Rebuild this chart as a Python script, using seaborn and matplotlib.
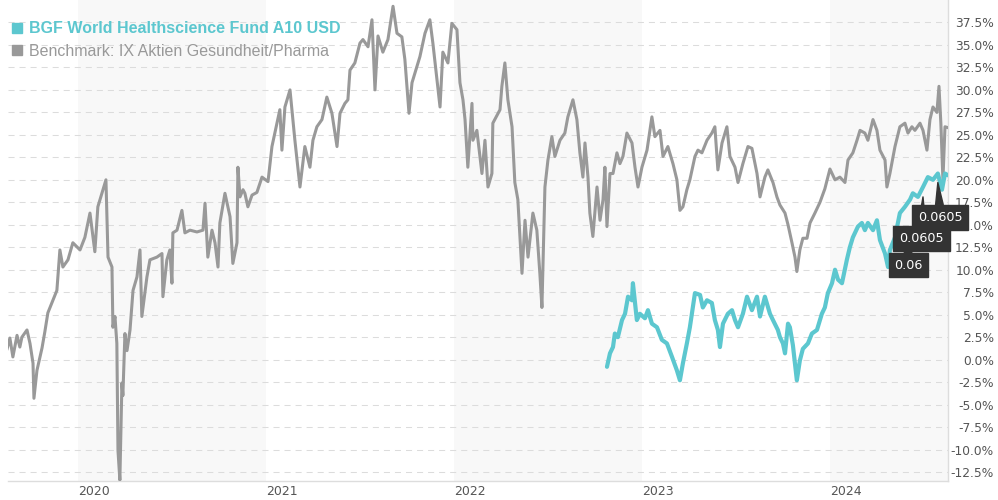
import numpy as np
import pandas as pd
import matplotlib
matplotlib.use("Agg")
import matplotlib.pyplot as plt
from matplotlib.lines import Line2D
from matplotlib.ticker import FixedLocator, FuncFormatter
import seaborn as sns

# ---------------- data (decimal years, performance in %) ----------------
bench_t = [2019.622, 2019.638, 2019.654, 2019.676, 2019.691, 2019.702, 2019.729, 2019.745,
           2019.761, 2019.766, 2019.782, 2019.809, 2019.824, 2019.840, 2019.867, 2019.888,
           2019.904, 2019.920, 2019.947, 2019.973, 2020.011, 2020.037, 2020.064, 2020.090,
           2020.106, 2020.133, 2020.149, 2020.160, 2020.181, 2020.186, 2020.197, 2020.207,
           2020.213, 2020.223, 2020.234, 2020.239, 2020.250, 2020.261, 2020.277, 2020.293,
           2020.314, 2020.330, 2020.340, 2020.367, 2020.383, 2020.420, 2020.447, 2020.452,
           2020.473, 2020.489, 2020.500, 2020.505, 2020.527, 2020.553, 2020.569, 2020.596,
           2020.633, 2020.665, 2020.676, 2020.691, 2020.713, 2020.729, 2020.745, 2020.755,
           2020.782, 2020.809, 2020.824, 2020.846, 2020.851, 2020.862, 2020.878, 2020.888,
           2020.904, 2020.926, 2020.952, 2020.979, 2021.011, 2021.032, 2021.059, 2021.074,
           2021.085, 2021.101, 2021.128, 2021.154, 2021.181, 2021.207, 2021.234, 2021.250,
           2021.271, 2021.298, 2021.324, 2021.351, 2021.378, 2021.394, 2021.420, 2021.436,
           2021.447, 2021.473, 2021.500, 2021.516, 2021.543, 2021.564, 2021.580, 2021.596,
           2021.622, 2021.649, 2021.676, 2021.697, 2021.723, 2021.739, 2021.761, 2021.777,
           2021.803, 2021.819, 2021.846, 2021.872, 2021.888, 2021.926, 2021.941, 2021.968,
           2021.989, 2022.016, 2022.032, 2022.048, 2022.059, 2022.074, 2022.096, 2022.101,
           2022.122, 2022.149, 2022.165, 2022.181, 2022.202, 2022.207, 2022.245, 2022.255,
           2022.271, 2022.287, 2022.309, 2022.324, 2022.340, 2022.362, 2022.378, 2022.394,
           2022.420, 2022.441, 2022.457, 2022.468, 2022.484, 2022.500, 2022.521, 2022.537,
           2022.564, 2022.590, 2022.606, 2022.633, 2022.654, 2022.670, 2022.686, 2022.697,
           2022.713, 2022.723, 2022.739, 2022.761, 2022.777, 2022.793, 2022.803, 2022.814,
           2022.830, 2022.846, 2022.867, 2022.883, 2022.899, 2022.920, 2022.947, 2022.963,
           2022.979, 2023.000, 2023.027, 2023.053, 2023.069, 2023.096, 2023.112, 2023.138,
           2023.165, 2023.186, 2023.202, 2023.218, 2023.239, 2023.255, 2023.282, 2023.298,
           2023.319, 2023.346, 2023.372, 2023.388, 2023.404, 2023.426, 2023.452, 2023.468,
           2023.495, 2023.511, 2023.537, 2023.564, 2023.585, 2023.612, 2023.628, 2023.654,
           2023.670, 2023.697, 2023.718, 2023.734, 2023.761, 2023.777, 2023.798, 2023.814,
           2023.824, 2023.840, 2023.856, 2023.878, 2023.894, 2023.920, 2023.947, 2023.973,
           2024.000, 2024.027, 2024.053, 2024.080, 2024.096, 2024.122, 2024.144, 2024.160,
           2024.186, 2024.202, 2024.229, 2024.250, 2024.266, 2024.293, 2024.303, 2024.319,
           2024.346, 2024.372, 2024.399, 2024.415, 2024.436, 2024.452, 2024.479, 2024.495,
           2024.516, 2024.532, 2024.548, 2024.569, 2024.580, 2024.590, 2024.601, 2024.612,
           2024.628]
bench_v = [1.1, 2.4, 0.3, 2.7, 1.4, 2.5, 3.3, 1.8,
           -0.4, -4.3, -1.2, 1.3, 3.1, 5.2, 6.6, 7.7,
           12.2, 10.3, 11.1, 13.0, 12.2, 13.6, 16.3, 12.0,
           17.0, 18.9, 20.0, 11.4, 10.3, 3.6, 4.8, 1.8,
           -10.1, -13.4, -2.6, -4.0, 2.9, 1.0, 3.3, 7.7,
           9.2, 12.2, 4.8, 9.2, 11.1, 11.4, 11.8, 7.0,
           11.1, 12.2, 8.5, 14.1, 14.4, 16.6, 14.1, 14.4,
           14.2, 14.4, 17.4, 11.4, 14.4, 13.0, 10.3, 15.2,
           18.5, 15.9, 10.7, 13.0, 21.4, 18.1, 18.9, 18.5,
           17.0, 18.3, 18.6, 20.3, 19.8, 23.7, 26.3, 27.8,
           23.3, 28.1, 30.0, 24.4, 19.2, 23.7, 21.4, 24.4,
           25.9, 26.7, 29.2, 27.4, 23.7, 27.4, 28.5, 28.9,
           32.2, 33.0, 35.2, 35.6, 34.8, 37.8, 30.0, 36.0,
           34.2, 35.6, 39.3, 36.3, 35.9, 33.4, 27.4, 30.8,
           32.6, 33.7, 36.3, 37.8, 35.2, 28.1, 34.2, 33.0,
           37.4, 36.7, 30.8, 28.9, 26.7, 21.4, 28.5, 24.4,
           25.5, 20.7, 24.4, 19.2, 20.7, 26.3, 27.8, 30.4,
           33.0, 28.9, 25.9, 19.7, 17.8, 9.6, 15.5, 11.4,
           16.3, 14.4, 9.6, 5.8, 19.2, 22.2, 24.8, 22.6,
           24.4, 25.2, 27.0, 28.9, 26.7, 23.0, 20.3, 24.1,
           20.3, 16.3, 13.7, 19.2, 15.5, 17.8, 21.4, 14.8,
           20.7, 20.7, 23.0, 21.8, 22.6, 25.2, 24.1, 21.4,
           19.2, 21.4, 23.3, 27.0, 24.8, 25.5, 22.6, 23.7,
           21.8, 20.0, 16.6, 17.0, 18.9, 20.0, 22.6, 23.3,
           23.0, 24.4, 25.2, 25.9, 21.1, 24.1, 25.9, 22.6,
           21.4, 19.7, 21.8, 23.7, 23.5, 20.7, 18.1, 20.3,
           21.1, 19.7, 18.1, 17.2, 16.3, 15.0, 13.0, 11.4,
           9.8, 12.2, 13.5, 13.5, 15.2, 16.3, 17.5, 19.0,
           21.2, 20.0, 20.3, 19.7, 22.2, 23.0, 24.4, 25.5,
           25.2, 24.4, 26.7, 25.5, 23.3, 22.2, 19.2, 20.7,
           23.7, 25.9, 26.3, 25.2, 25.9, 25.5, 26.3, 25.5,
           23.3, 26.7, 28.1, 27.5, 30.4, 26.3, 20.0, 25.9,
           25.8]

fund_t = [2022.814, 2022.830, 2022.846, 2022.856, 2022.872, 2022.894, 2022.910, 2022.926,
          2022.947, 2022.952, 2022.973, 2022.989, 2023.016, 2023.032, 2023.053, 2023.080,
          2023.106, 2023.133, 2023.160, 2023.186, 2023.202, 2023.218, 2023.239, 2023.255,
          2023.282, 2023.309, 2023.324, 2023.346, 2023.372, 2023.388, 2023.404, 2023.415,
          2023.431, 2023.457, 2023.479, 2023.495, 2023.511, 2023.537, 2023.559, 2023.585,
          2023.612, 2023.628, 2023.654, 2023.681, 2023.697, 2023.723, 2023.734, 2023.750,
          2023.761, 2023.777, 2023.787, 2023.803, 2023.824, 2023.840, 2023.856, 2023.883,
          2023.904, 2023.931, 2023.957, 2023.973, 2023.989, 2024.011, 2024.027, 2024.043,
          2024.064, 2024.090, 2024.106, 2024.122, 2024.149, 2024.170, 2024.186, 2024.202,
          2024.229, 2024.250, 2024.266, 2024.293, 2024.309, 2024.319, 2024.346, 2024.372,
          2024.399, 2024.426, 2024.441, 2024.468, 2024.495, 2024.521, 2024.548, 2024.574,
          2024.596, 2024.612, 2024.628]
fund_v = [-0.8, 0.7, 1.4, 2.9, 2.5, 4.4, 5.1, 7.0,
          6.6, 8.5, 4.4, 5.1, 4.6, 5.5, 4.0, 3.6,
          2.2, 1.8, 0.3, -1.2, -2.3, -0.4, 1.8, 3.6,
          7.4, 7.2, 5.8, 6.6, 6.3, 4.4, 3.3, 1.4,
          4.0, 5.1, 5.5, 4.4, 3.6, 5.1, 7.0, 5.5,
          7.0, 4.8, 7.0, 5.1, 4.4, 3.3, 2.5, 1.8,
          0.7, 4.0, 3.6, 1.6, -2.3, -0.1, 1.2, 1.8,
          2.9, 3.3, 5.1, 5.8, 7.4, 8.5, 10.0, 8.9,
          8.5, 11.1, 12.5, 13.6, 14.8, 15.2, 14.4, 15.2,
          14.4, 15.5, 13.3, 11.8, 10.3, 12.2, 13.6, 16.3,
          17.0, 17.8, 18.5, 18.1, 19.2, 20.3, 20.0, 20.7,
          18.9, 20.7, 20.5]

series_names = ["BGF World Healthscience Fund A10 USD",
                "Benchmark: IX Aktien Gesundheit/Pharma"]
series_colors = ["#5cc7cf", "#999999"]

year_ticks = [2020, 2021, 2022, 2023, 2024]
shaded_years = [2020, 2022, 2024]
y_ticks = [-12.5, -10.0, -7.5, -5.0, -2.5, 0.0, 2.5, 5.0, 7.5, 10.0, 12.5, 15.0,
           17.5, 20.0, 22.5, 25.0, 27.5, 30.0, 32.5, 35.0, 37.5]

# tooltips: label, anchor (t, v), box centre (t, v)
tip_labels = ["0.06", "0.0605", "0.0605"]
tip_anchor_t = [2024.415, 2024.495, 2024.574]
tip_anchor_v = [12.3, 18.1, 19.7]
tip_box_t = [2024.418, 2024.487, 2024.587]
tip_box_v = [10.5, 13.5, 15.8]

# ---------------- helpers ----------------
BASE = pd.Timestamp("2020-01-01")


def to_date(t):
    return BASE + pd.to_timedelta((np.asarray(t, dtype=float) - 2020.0) * 365.25, unit="D")


df_b = pd.DataFrame({"date": to_date(bench_t), "value": bench_v, "series": series_names[1]})
df_f = pd.DataFrame({"date": to_date(fund_t), "value": fund_v, "series": series_names[0]})

sns.set_theme(style="white")
plt.rcParams["font.family"] = ["DejaVu Sans"]

fig = plt.figure(figsize=(9.98, 5.0), dpi=100)
ax = fig.add_axes([8 / 998, 19 / 500, 940 / 998, 481 / 500])
ax.set_facecolor("white")

# alternating year shading
for yr in shaded_years:
    ax.axvspan(to_date(yr), to_date(yr + 1), color="#f8f8f8", zorder=0, lw=0)

# grid
for yv in y_ticks:
    ax.axhline(yv, color="#dcdcdc", lw=0.75, ls=(0, (5.8, 4.8)), zorder=1)

sns.lineplot(data=df_b, x="date", y="value", color=series_colors[1], lw=2.2,
             ax=ax, legend=False, zorder=3, estimator=None)
sns.lineplot(data=df_f, x="date", y="value", color=series_colors[0], lw=3.0,
             ax=ax, legend=False, zorder=4, estimator=None)

ax.set_xlim(to_date(2019.628), to_date(2024.628))
ax.set_ylim(-13.5, 40.0)
ax.set_xlabel("")
ax.set_ylabel("")

# x axis
ax.set_xticks([to_date(y) for y in year_ticks])
ax.set_xticklabels([str(y) for y in year_ticks])
for lbl in ax.get_xticklabels():
    lbl.set_horizontalalignment("left")
ax.tick_params(axis="x", length=0, pad=3, labelsize=9, labelcolor="#555555")

# y axis on right, labels right-aligned
ax.yaxis.tick_right()
ax.yaxis.set_major_locator(FixedLocator(y_ticks))
ax.yaxis.set_major_formatter(FuncFormatter(lambda v, p: f"{v:.1f}%"))
ax.tick_params(axis="y", length=0, pad=33, labelsize=8.8, labelcolor="#555555")
for lbl in ax.get_yticklabels():
    lbl.set_horizontalalignment("right")

for s in ["top", "left"]:
    ax.spines[s].set_visible(False)
for s in ["right", "bottom"]:
    ax.spines[s].set_visible(True)
    ax.spines[s].set_color("#dddddd")
    ax.spines[s].set_linewidth(1.0)

# tooltips
for lab, at, av, bt, bv in zip(tip_labels, tip_anchor_t, tip_anchor_v, tip_box_t, tip_box_v):
    ax.annotate(lab, xy=(to_date(at), av), xytext=(to_date(bt), bv),
                textcoords="data", ha="center", va="center", color="white",
                fontsize=9.2, annotation_clip=False, zorder=6,
                bbox=dict(boxstyle="square,pad=0.45", fc="#333333", ec="#333333"),
                arrowprops=dict(arrowstyle="wedge,tail_width=0.6,shrink_factor=0.5",
                                fc="#333333", ec="#333333", shrinkA=0, shrinkB=0))

# legend
handles = [Line2D([0], [0], marker="s", ls="none", color=c, markersize=7) for c in series_colors]
leg = ax.legend(handles, series_names, loc="upper left", bbox_to_anchor=(0.0, 0.962),
                frameon=False, handlelength=0.7, handletextpad=0.4, labelspacing=0.45,
                borderaxespad=0.0, borderpad=0.2,
                prop={"family": ["Liberation Sans", "DejaVu Sans"], "size": 11.5})
for txt, c in zip(leg.get_texts(), series_colors):
    txt.set_color(c)
leg.get_texts()[0].set_fontweight("bold")
leg.set_zorder(7)

fig.savefig("out.png", dpi=100, facecolor="white")
